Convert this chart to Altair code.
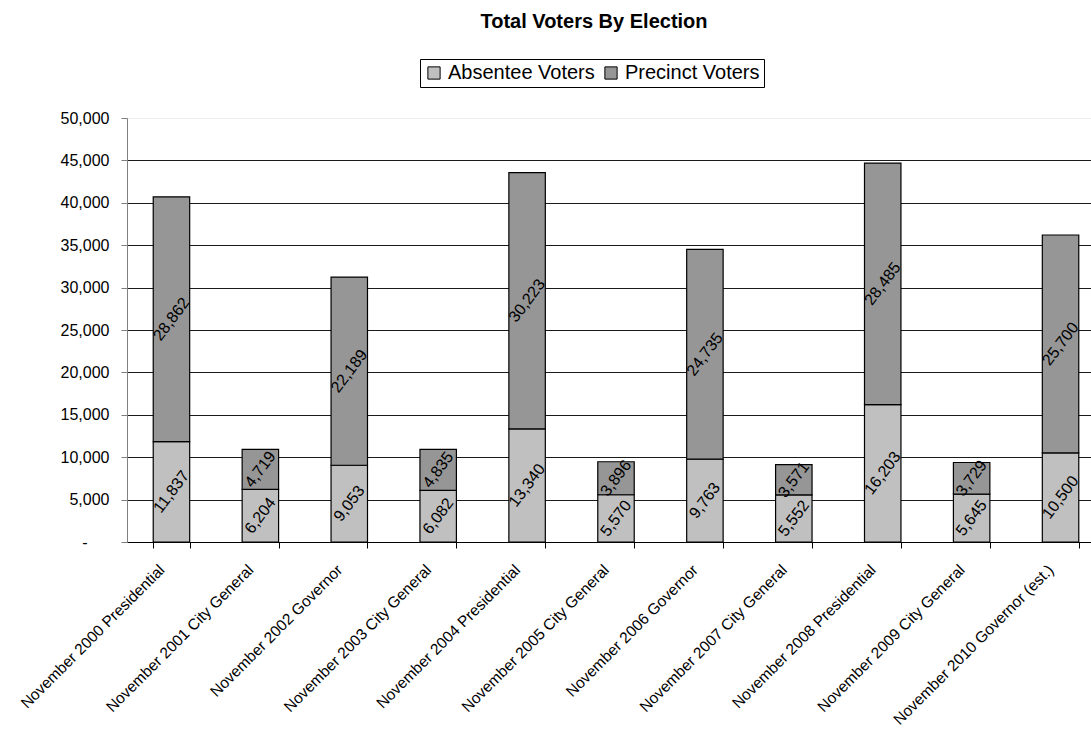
import altair as alt
import pandas as pd

# Election names and voter counts
elections = [
    "November 2000 Presidential",
    "November 2001 City General",
    "November 2002 Governor",
    "November 2003 City General",
    "November 2004 Presidential",
    "November 2005 City General",
    "November 2006 Governor",
    "November 2007 City General",
    "November 2008 Presidential",
    "November 2009 City General",
    "November 2010 Governor (est.)",
]
absentee = [11837, 6204, 9053, 6082, 13340, 5570, 9763, 5552, 16203, 5645, 10500]
precinct = [28862, 4719, 22189, 4835, 30223, 3896, 24735, 3571, 28485, 3729, 25700]

series = ["Absentee Voters", "Precinct Voters"]
series_colors = ["#C0C0C0", "#969696"]
y_ticks = [0, 5000, 10000, 15000, 20000, 25000, 30000, 35000, 40000, 45000, 50000]

rows = []
for name, a, p in zip(elections, absentee, precinct):
    rows.append({"election": name, "series": series[0], "voters": a, "order": 0})
    rows.append({"election": name, "series": series[1], "voters": p, "order": 1})
df = pd.DataFrame(rows)

FONT = "Liberation Sans"

base = (
    alt.Chart(df)
    .transform_stack(
        stack="voters",
        groupby=["election"],
        as_=["lo", "hi"],
        sort=[alt.SortField("order", order="ascending")],
    )
    .transform_calculate(mid="(datum.lo + datum.hi) / 2")
)

# the category axis runs a little past the right edge of the page
x_scale = alt.Scale(paddingInner=0.59, paddingOuter=0.295, range=[0, 978])

x_enc = alt.X(
    "election:N",
    sort=elections,
    scale=x_scale,
    axis=alt.Axis(
        title=None,
        labelAngle=315,
        labelAlign="right",
        labelBaseline="middle",
        labelFont=FONT,
        labelFontSize=15.5,
        labelColor="black",
        labelPadding=19,
        labelOffset=-10,
        labelLimit=400,
        tickBand="extent",
        tickSize=6,
        tickColor="black",
        domainColor="black",
        grid=False,
        labelOverlap=False,
    ),
)

y_scale = alt.Scale(domain=[0, 50000], nice=False, zero=True)

y_axis = alt.Axis(
    title=None,
    values=y_ticks,
    labelExpr="datum.value == 0 ? '-' : format(datum.value, ',')",
    labelFont=FONT,
    labelFontSize=16,
    labelColor="black",
    labelPadding=alt.condition("datum.value == 0", alt.value(34), alt.value(12)),
    tickSize=6,
    tickColor="#808080",
    domainColor="#808080",
    grid=True,
    gridColor=alt.condition("datum.value == 50000", alt.value("#eeeeee"), alt.value("#1a1a1a")),
    gridWidth=1,
)

bars = base.mark_bar(stroke="black", strokeWidth=1.2, strokeOpacity=1).encode(
    x=x_enc,
    y=alt.Y("lo:Q", scale=y_scale, axis=y_axis),
    y2="hi:Q",
    color=alt.Color(
        "series:N",
        scale=alt.Scale(domain=series, range=series_colors),
        legend=alt.Legend(
            title=None,
            orient="none",
            legendX=293,
            legendY=-59,
            direction="horizontal",
            strokeColor="black",
            padding=4,
            labelFont=FONT,
            labelFontSize=20,
            labelColor="black",
            labelOffset=4,
            symbolType="square",
            symbolSize=150,
            symbolStrokeColor="black",
            symbolStrokeWidth=1,
            symbolOpacity=1,
            columnPadding=6,
        ),
    ),
)

labels = base.mark_text(
    angle=307, font=FONT, fontSize=16, color="black"
).encode(
    x=alt.X("election:N", sort=elections),
    y=alt.Y("mid:Q", scale=y_scale),
    text=alt.Text("voters:Q", format=","),
)

chart = (
    alt.layer(bars, labels)
    .properties(
        width=964,
        height=424,
        autosize=alt.AutoSizeParams(type="none"),
        padding={"left": 127, "top": 118, "right": 0, "bottom": 192},
        title=alt.TitleParams(
            "Total Voters By Election",
            font=FONT,
            fontSize=20,
            fontWeight="bold",
            color="black",
            anchor="middle",
            dx=-15,
            offset=27,
        ),
    )
    .configure_view(stroke=None)
)

chart.save("out.html", embed_options={"renderer": "svg", "actions": False})
